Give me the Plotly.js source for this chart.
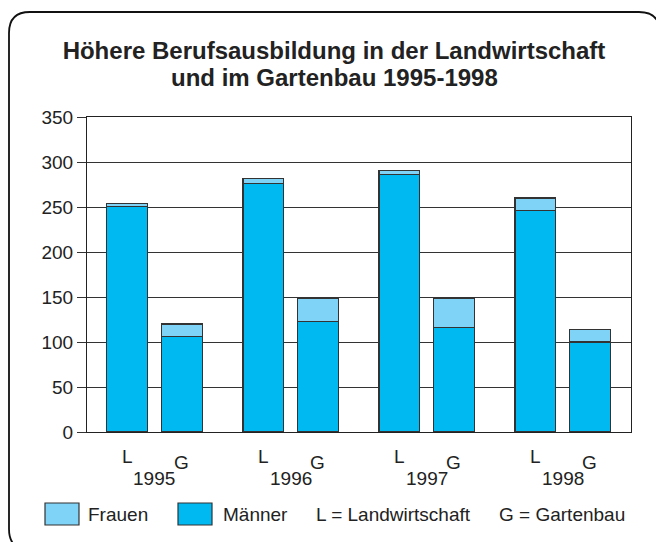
<!DOCTYPE html>
<html>
<head>
<meta charset="utf-8">
<script src="https://cdn.plot.ly/plotly-3.0.1.min.js"></script>
<style>
  html, body { margin: 0; padding: 0; background: #fff; }
  #chart { width: 656px; height: 542px; }
</style>
</head>
<body>
<div id="chart"></div>
<script>
// ---- data ----
const years = ['1995', '1996', '1997', '1998'];
const subLabels = ['L', 'G'];              // L = Landwirtschaft, G = Gartenbau
const maennerL = [251, 276, 286, 246];
const frauenL  = [3, 6, 5, 14];
const maennerG = [106, 123, 116, 100];
const frauenG  = [14, 25, 33, 14];
const seriesNames = ['Frauen', 'Männer'];
const legendNotes = ['L = Landwirtschaft', 'G = Gartenbau'];
const titleLines = ['Höhere Berufsausbildung in der Landwirtschaft', 'und im Gartenbau 1995-1998'];

// ---- styling ----
const colMaenner = '#00B9F1';
const colFrauen = '#7FD3F6';
const edge = '#333333';
const FONT = 'Liberation Sans, Arial, Helvetica, sans-serif';
const W = 656, H = 542;
const M = {l: 87, r: 25, t: 117, b: 110};
const PW = W - M.l - M.r, PH = H - M.t - M.b;
const px2x = px => (px - M.l) / PW;
const py2y = py => (H - M.b - py) / PH;

// category positions: group spacing 2.5, L/G spacing 1
const xs = [], yM = [], yF = [];
years.forEach((yr, i) => {
  xs.push(i * 2.5);      yM.push(maennerL[i]); yF.push(frauenL[i]);
  xs.push(i * 2.5 + 1);  yM.push(maennerG[i]); yF.push(frauenG[i]);
});

const traces = [
  {type: 'bar', name: seriesNames[1], x: xs, y: yM, width: 0.75,
   marker: {color: colMaenner, line: {color: edge, width: 1.2}}, showlegend: false, hoverinfo: 'y'},
  {type: 'bar', name: seriesNames[0], x: xs, y: yF, width: 0.75,
   marker: {color: colFrauen, line: {color: edge, width: 1.2}}, showlegend: false, hoverinfo: 'y'}
];

const annotations = [];
years.forEach((yr, i) => {
  annotations.push({xref: 'x', yref: 'paper', x: i * 2.5, y: py2y(456), text: subLabels[0],
    showarrow: false, yanchor: 'middle', xanchor: 'center', font: {family: FONT, size: 19, color: '#222'}});
  annotations.push({xref: 'x', yref: 'paper', x: i * 2.5 + 1, y: py2y(462), text: subLabels[1],
    showarrow: false, yanchor: 'middle', xanchor: 'center', font: {family: FONT, size: 19, color: '#222'}});
  annotations.push({xref: 'x', yref: 'paper', x: i * 2.5 + 0.5, y: py2y(478), text: yr,
    showarrow: false, yanchor: 'middle', xanchor: 'center', font: {family: FONT, size: 19, color: '#222'}});
});
// title second line
annotations.push({xref: 'paper', yref: 'paper', x: px2x(334), y: py2y(77), text: '<b>' + titleLines[1] + '</b>',
  showarrow: false, xanchor: 'center', yanchor: 'middle', font: {family: FONT, size: 24, color: '#222'}});

// legend texts
const legTextY = py2y(514);
[[86, seriesNames[0]], [221, seriesNames[1]], [314, legendNotes[0]], [497, legendNotes[1]]].forEach(([px, t]) => {
  annotations.push({xref: 'paper', yref: 'paper', x: px2x(px), y: legTextY, text: t, showarrow: false,
    xanchor: 'left', yanchor: 'middle', font: {family: FONT, size: 19, color: '#222'}});
});

const shapes = [
  {type: 'rect', xref: 'paper', yref: 'paper', x0: px2x(45), x1: px2x(79), y0: py2y(525), y1: py2y(503),
   fillcolor: colFrauen, line: {color: edge, width: 1.2}},
  {type: 'rect', xref: 'paper', yref: 'paper', x0: px2x(178), x1: px2x(212), y0: py2y(525), y1: py2y(503),
   fillcolor: colMaenner, line: {color: edge, width: 1.2}}
];
// rounded outer frame
(function () {
  const x0 = 9, y0 = 12, x1 = 660, y1 = 550, r = 21;
  const X = px2x, Y = py2y;
  const p = [
    `M ${X(x0)} ${Y(y0 + r)}`,
    `Q ${X(x0)} ${Y(y0)} ${X(x0 + r)} ${Y(y0)}`,
    `L ${X(x1 - r)} ${Y(y0)}`,
    `Q ${X(x1)} ${Y(y0)} ${X(x1)} ${Y(y0 + r)}`,
    `L ${X(x1)} ${Y(y1 - r)}`,
    `Q ${X(x1)} ${Y(y1)} ${X(x1 - r)} ${Y(y1)}`,
    `L ${X(x0 + r)} ${Y(y1)}`,
    `Q ${X(x0)} ${Y(y1)} ${X(x0)} ${Y(y1 - r)}`,
    'Z'
  ].join(' ');
  shapes.push({type: 'path', xref: 'paper', yref: 'paper', path: p, line: {color: '#111', width: 1.8}, layer: 'above'});
})();

const layout = {
  width: W, height: H,
  margin: M,
  paper_bgcolor: '#fff', plot_bgcolor: '#fff',
  barmode: 'stack',
  showlegend: false,
  font: {family: FONT, color: '#222'},
  title: {text: '<b>' + titleLines[0] + '</b>', font: {family: FONT, size: 24, color: '#222'},
          xref: 'paper', x: px2x(334), xanchor: 'center', yref: 'container', y: 1 - 51 / H, yanchor: 'middle'},
  xaxis: {range: [-0.74, 9.255], showticklabels: false, ticks: '', showgrid: false, zeroline: false,
          showline: true, mirror: true, linecolor: '#222', linewidth: 1, fixedrange: true},
  yaxis: {range: [0, 350], dtick: 50, tick0: 0, ticks: 'outside', ticklen: 9, tickcolor: '#333', tickwidth: 1,
          showgrid: true, gridcolor: '#333', gridwidth: 1, zeroline: false,
          showline: true, mirror: true, linecolor: '#222', linewidth: 1,
          tickfont: {family: FONT, size: 19, color: '#222'}, fixedrange: true},
  annotations: annotations,
  shapes: shapes
};

Plotly.newPlot('chart', traces, layout, {displayModeBar: false, staticPlot: true});
</script>
</body>
</html>
